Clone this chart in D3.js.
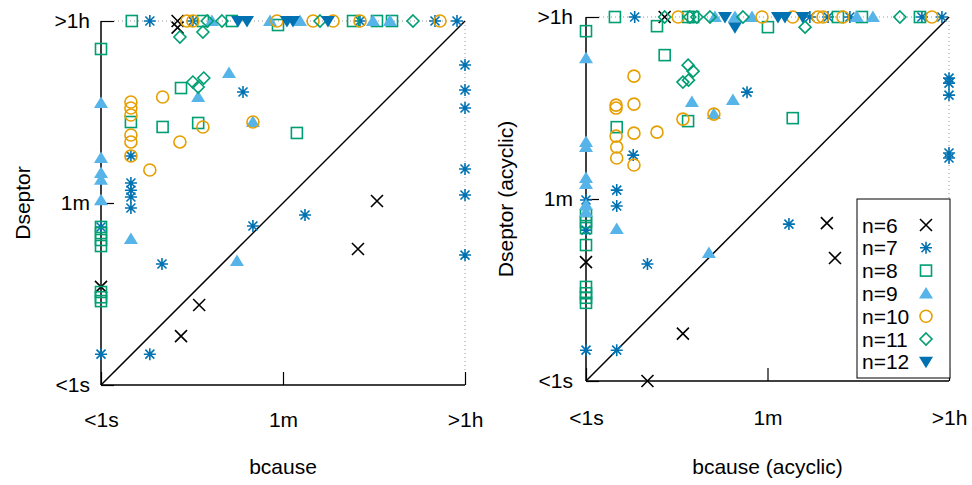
<!DOCTYPE html>
<html>
<head>
<meta charset="UTF-8">
<script src="https://d3js.org/d3.v7.min.js"></script>
<style>
  body { margin: 0; background: #fff; }
  text { font-family: "Liberation Sans", Arial, sans-serif; font-size: 21px; fill: #000; }
  .tick line { stroke: #000; stroke-width: 1.2; }
  .domain { display: none; }
</style>
<title>bcause vs Dseptor</title>
</head>
<body>
<svg id="chart" width="972" height="485"></svg>
<script>
// run times in seconds: [bcause, Dseptor]; 1 = "<1s", 3600 = ">1h" (timeout)
const tickValues = [1, 60, 3600];
const tickLabels = ["<1s", "1m", ">1h"];
const seriesNames = ["n=6", "n=7", "n=8", "n=9", "n=10", "n=11", "n=12"];

// left panel (cyclic)
const n6 = [[5.6,3600],[5.6,3100],[1,9.1],[497,62.8],[324,21.3],[9.1,6.05],[6.05,3.0]];
const n7 = [[3.0,3600],[7.9,3600],[339,3600],[1833,3600],[3006,3600],[3600,1337],[3600,762],[3600,508],
  [3600,129],[3600,71.8],[3600,18.6],[1.96,173],[1.96,94],[1.96,80],[1.96,68.7],[1.96,53.6],[1,35],[1,2.0],
  [24.4,728],[98.4,45.8],[30.5,35.8],[3.94,15.2],[3.0,2.0]];
const n8 = [[2.0,3600],[9.9,3600],[19,3600],[53.6,3289],[290,3600],[497,3600],[697,3600],[1,1918],[1,35],
  [1,30.5],[1,26.1],[1,22.8],[1,8.1],[1,7.2],[1,6.6],[1.96,371],[6.05,797],[4.0,332],[8.9,363],[82,290]];
const n9 = [[12.1,3600],[44.8,3600],[88,3600],[454,3600],[666,3600],[1,569],[1,165],[1,118],[1,101],[1,64],
  [1.96,26.7],[8.9,651],[17.8,1117],[30.5,371],[21.3,16.3]];
const n10 = [[6.9,3600],[7.9,3600],[52.4,3600],[118,3600],[185,3600],[339,3600],[2051,3600],[1.96,582],
  [1.96,508],[1.96,434],[1.96,277],[1.96,237],[1.96,173],[4.0,651],[9.9,332],[30.5,371],[5.9,237],[3.0,126]];
const n11 = [[10.9,3600],[15.2,3600],[138,3600],[1117,3600],[5.9,2512],[9.9,2811],[7.9,912],[10.1,998],[8.9,815]];
const n12 = [[21.8,3600],[26.7,3600],[65.6,3600],[75.1,3600],[165,3600]];

// right panel (acyclic)
const a6 = [[5.9,3600],[1,14.5],[4.0,1],[229,34.9],[275,15.9],[8.9,2.9]];
const a7 = [[3.0,3600],[156,3600],[235,3600],[385,3600],[1954,3600],[3069,3600],[3600,910],[3600,813],
  [3600,621],[3600,169],[3600,151],[2.0,73.3],[2.0,51.2],[2.9,161],[1,58.6],[1,29.8],[1,2.0],[2.0,2.0],
  [4.0,13.9],[37.8,664],[97.3,34.1]];
const a8 = [[1.92,3600],[10,3600],[11.2,3600],[294,3600],[505,3600],[1868,3600],[4.96,2930],[60.6,2866],
  [1,2618],[5.9,1527],[2.0,302],[10,346],[106,370],[1,41.8],[1,35.7],[1,31.2],[1,21.3],[1,8.3],[1,7.2],
  [1,6.5],[1,5.8]];
const a9 = [[18.3,3600],[28.8,3600],[42.3,3600],[451,3600],[647,3600],[1,1426],[1,216],[1,193],[1,96],[1,84],
  [1,52.3],[1,44.7],[2.0,30.5],[10.9,531],[17.9,405],[27.5,555],[16,17.8]];
const a10 = [[8.0,3600],[53,3600],[106,3600],[187,3600],[210,3600],[329,3600],[2448,3600],[1.97,496],
  [1.97,464],[1.97,247],[2.0,193],[2.0,151],[2.95,952],[2.95,507],[2.95,264],[2.95,129],[4.96,270],
  [8.9,362],[17.9,405]];
const a11 = [[5.9,3600],[10.4,3600],[12.2,3600],[16.4,3600],[34.5,3600],[1189,3600],[140,2866],[10,1219],
  [11.2,1065],[8.9,832],[10.1,870]];
const a12 = [[23,3600],[76,3600],[89,3600],[133,3600],[28.8,2866]];

const markers = ["cross", "star", "square", "triUp", "circle", "diamond", "triDown"];
const colors = ["#000000", "#0072b2", "#009e73", "#56b4e9", "#e69f00", "#009e73", "#0072b2"];

const svg = d3.select("svg#chart");

function drawMarker(g, type, x, y, color) {
  const s = 1.6;
  if (type == "cross") {
    g.append("path").attr("d", `M${x-6},${y-6}L${x+6},${y+6}M${x-6},${y+6}L${x+6},${y-6}`)
      .attr("stroke", color).attr("stroke-width", s).attr("fill", "none");
  } else if (type == "star") {
    g.append("path").attr("d", `M${x-6},${y}L${x+6},${y}M${x},${y-6}L${x},${y+6}M${x-4.5},${y-4.5}L${x+4.5},${y+4.5}M${x-4.5},${y+4.5}L${x+4.5},${y-4.5}`)
      .attr("stroke", color).attr("stroke-width", s).attr("fill", "none");
  } else if (type == "square") {
    g.append("rect").attr("x", x - 5.5).attr("y", y - 5.5).attr("width", 11).attr("height", 11)
      .attr("stroke", color).attr("stroke-width", s).attr("fill", "none");
  } else if (type == "circle") {
    g.append("circle").attr("cx", x).attr("cy", y).attr("r", 6)
      .attr("stroke", color).attr("stroke-width", s).attr("fill", "none");
  } else if (type == "diamond") {
    g.append("path").attr("d", `M${x},${y-6}L${x+6},${y}L${x},${y+6}L${x-6},${y}Z`)
      .attr("stroke", color).attr("stroke-width", s).attr("fill", "none");
  } else if (type == "triUp") {
    g.append("path").attr("d", `M${x},${y-6.5}L${x+7},${y+5}L${x-7},${y+5}Z`).attr("fill", color);
  } else if (type == "triDown") {
    g.append("path").attr("d", `M${x},${y+6.5}L${x+7},${y-5}L${x-7},${y-5}Z`).attr("fill", color);
  }
}

function drawPanel(p) {
  const xScale = d3.scaleLog().domain([1, 3600]).range([p.left, p.right]);
  const yScale = d3.scaleLog().domain([1, 3600]).range([p.bottom, p.top]);
  const g = svg.append("g");

  // dotted timeout borders
  g.append("line").attr("x1", p.left + 13).attr("x2", p.right).attr("y1", p.top).attr("y2", p.top)
    .attr("stroke", "#999").attr("stroke-width", 1).attr("stroke-dasharray", "1,3");
  g.append("line").attr("x1", p.right).attr("x2", p.right).attr("y1", p.top).attr("y2", p.bottom - 13)
    .attr("stroke", "#999").attr("stroke-width", 1).attr("stroke-dasharray", "1,3");

  let y_axis = d3.axisLeft(yScale).tickValues(tickValues).tickFormat((d, i) => tickLabels[i])
    .tickSize(-13).tickPadding(p.yPad);
  g.append("g").attr("transform", "translate(" + p.left + ",0)").call(y_axis);
  let x_axis = d3.axisBottom(xScale).tickValues(tickValues).tickFormat((d, i) => tickLabels[i])
    .tickSize(-13).tickPadding(p.xPad);
  g.append("g").attr("transform", "translate(0," + p.bottom + ")").call(x_axis);
  g.selectAll(".tick text").style("font-size", "21px").attr("fill", "#000");

  g.append("line").attr("x1", p.left).attr("x2", p.left).attr("y1", p.top).attr("y2", p.bottom)
    .attr("stroke", "#000").attr("stroke-width", 1.5);
  g.append("line").attr("x1", p.left).attr("x2", p.right).attr("y1", p.bottom).attr("y2", p.bottom)
    .attr("stroke", "#000").attr("stroke-width", 1.5);

  // diagonal y = x
  g.append("line").attr("x1", xScale(1)).attr("y1", yScale(1)).attr("x2", xScale(3600)).attr("y2", yScale(3600))
    .attr("stroke", "#000").attr("stroke-width", 1.5);

  p.series.forEach((data, i) => {
    data.forEach(d => drawMarker(g, markers[i], xScale(d[0]), yScale(d[1]), colors[i]));
  });

  g.append("text").attr("x", (p.left + p.right) / 2).attr("y", 474).attr("text-anchor", "middle").text(p.xTitle);
  g.append("text").attr("transform", "translate(" + p.yTitleX + "," + ((p.top + p.bottom) / 2) + ") rotate(-90)")
    .attr("text-anchor", "middle").text(p.yTitle);
}

drawPanel({left: 101, right: 465, top: 21, bottom: 385, xPad: 27, yPad: 11, yTitleX: 30,
  xTitle: "bcause", yTitle: "Dseptor", series: [n6, n7, n8, n9, n10, n11, n12]});
drawPanel({left: 586, right: 949, top: 17, bottom: 381, xPad: 29, yPad: 13, yTitleX: 513,
  xTitle: "bcause (acyclic)", yTitle: "Dseptor (acyclic)", series: [a6, a7, a8, a9, a10, a11, a12]});

// legend
const legend = svg.append("g");
legend.append("rect").attr("x", 857).attr("y", 199).attr("width", 93).attr("height", 179)
  .attr("fill", "#fff").attr("stroke", "#000").attr("stroke-width", 1);
seriesNames.forEach((name, i) => {
  const cy = 225 + i * 22.8;
  legend.append("text").attr("x", 862).attr("y", cy + 7.5).text(name);
  drawMarker(legend, markers[i], 926, cy, colors[i]);
});
</script>
</body>
</html>
